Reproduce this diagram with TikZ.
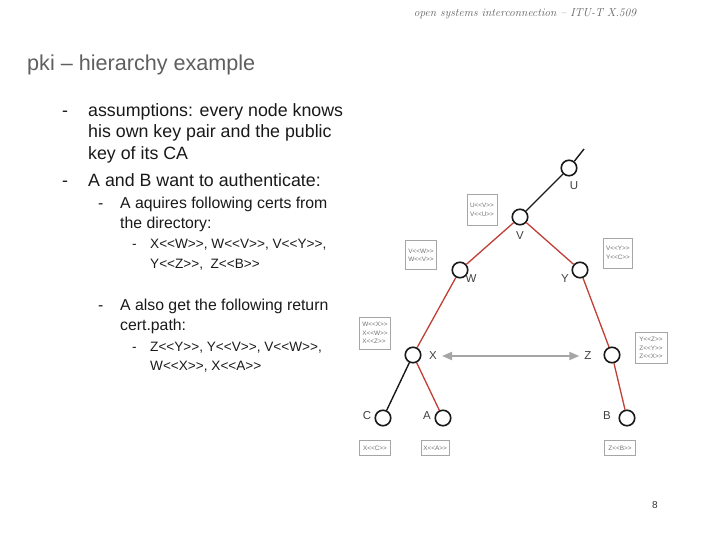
\documentclass[tikz,border=0pt]{standalone}
\usepackage{fontspec}
\newfontfamily\arial{Liberation Sans}
\usetikzlibrary{arrows.meta}
\definecolor{edgered}{RGB}{192,62,52}
\definecolor{txtgray}{RGB}{95,95,95}
\definecolor{bodytxt}{RGB}{25,25,25}
\begin{document}
\begin{tikzpicture}[x=1pt,y=-1pt,
  tn/.style={circle,draw=black!90,line width=1.6pt,minimum size=15.5pt,inner sep=0pt,fill=white},
  lab/.style={font=\arial\fontsize{11.5}{13}\selectfont,text=black!75,inner sep=0pt},
  cert/.style={draw=black!35,line width=0.6pt,font=\arial\fontsize{6.4}{8.4}\selectfont,text=black!55,align=left,inner sep=1.2pt},
  redge/.style={draw=edgered,line width=1.3pt},
  bedge/.style={draw=black!90,line width=1.4pt},
  b1/.style={anchor=base west,inner sep=0pt,font=\arial\fontsize{17.8}{21}\selectfont,text=bodytxt},
  b2/.style={anchor=base west,inner sep=0pt,font=\arial\fontsize{15.8}{19}\selectfont,text=bodytxt},
  b3/.style={anchor=base west,inner sep=0pt,font=\arial\fontsize{13.6}{16}\selectfont,text=bodytxt}
]
\useasboundingbox (0,0) rectangle (720,540);

% header
\node[inner sep=0pt,font=\itshape\fontsize{11.5}{13}\selectfont,text=txtgray] (hdr) at (525,14) {open systems interconnection -- ITU-T X.509};

% title
\node[anchor=base west,inner sep=0pt,font=\arial\fontsize{21.6}{25}\selectfont,text=txtgray] (title) at (27,71) {pki – hierarchy example};

% bullets
\node[b1] (d1) at (62,116.5) {-};
\node[b1] (t1a) at (88,116.5) {assumptions: every node knows};
\node[b1] (t1b) at (88,137.5) {his own key pair and the public};
\node[b1] (t1c) at (88,159.5) {key of its CA};
\node[b1] (d2) at (62,186.5) {-};
\node[b1] (t2) at (88,186.5) {A and B want to authenticate:};

\node[b2] (d21) at (98,209) {-};
\node[b2] (t21a) at (120,209) {A aquires following certs from};
\node[b2] (t21b) at (120,229) {the directory:};
\node[b3] (d211) at (132,248.5) {-};
\node[b3] (t211a) at (150,248.5) {X<<W>>, W<<V>>, V<<Y>>,};
\node[b3] (t211b) at (150,268.5) {Y<<Z>>, \ Z<<B>>};

\node[b2] (d22) at (98,310.5) {-};
\node[b2] (t22a) at (120,310.5) {A also get the following return};
\node[b2] (t22b) at (120,330.5) {cert.path:};
\node[b3] (d221) at (132,351) {-};
\node[b3] (t221a) at (150,351) {Z<<Y>>, Y<<V>>, V<<W>>,};
\node[b3] (t221b) at (150,370) {W<<X>>, X<<A>>};

% tree
\coordinate (top) at (584,149);
\node[tn] (U) at (569,168) {};
\node[tn] (V) at (520,217) {};
\node[tn] (W) at (460,270) {};
\node[tn] (Y) at (580,270) {};
\node[tn] (X) at (413,355) {};
\node[tn] (Z) at (612,355) {};
\node[tn] (C) at (383,418) {};
\node[tn] (A) at (443,418) {};
\node[tn] (B) at (627,418) {};

\draw[bedge] (top) -- (U);
\draw[bedge] (U) -- (V);
\draw[redge] (V) -- (W);
\draw[redge] (V) -- (Y);
\draw[redge] (W) -- (X);
\draw[redge] (Y) -- (Z);
\draw[bedge] (X) -- (C);
\draw[redge] (X) -- (A);
\draw[redge] (Z) -- (B);

\node[lab] (Ul) at (574,186) {U};
\node[lab] (Vl) at (520,236) {V};
\node[lab] (Wl) at (471,279) {W};
\node[lab] (Yl) at (565,279) {Y};
\node[lab] (Xl) at (433,356) {X};
\node[lab] (Zl) at (588,356) {Z};
\node[lab] (Cl) at (367,416) {C};
\node[lab] (Al) at (427,416) {A};
\node[lab] (Bl) at (607,416) {B};

\draw[draw=black!35,line width=2pt,{Triangle[width=8pt,length=10pt]}-{Triangle[width=8pt,length=10pt]},shorten <=5pt,shorten >=5pt] (Xl) -- (Zl);

% certificate boxes
\node[cert,minimum width=30pt,minimum height=31pt] (cU) at (482,210) {U<<V>>\\V<<U>>};
\node[cert,minimum width=31pt,minimum height=29pt] (cW) at (421,255) {V<<W>>\\W<<V>>};
\node[cert,minimum width=29pt,minimum height=30pt] (cY) at (618,253) {V<<Y>>\\Y<<C>>};
\node[cert,minimum width=31pt,minimum height=32pt] (cX) at (375,333) {W<<X>>\\X<<W>>\\X<<Z>>};
\node[cert,minimum width=32pt,minimum height=31pt] (cZ) at (651,348) {Y<<Z>>\\Z<<Y>>\\Z<<X>>};
\node[cert,minimum width=31pt,minimum height=15pt] (cC) at (375,448) {X<<C>>};
\node[cert,minimum width=28pt,minimum height=15pt] (cA) at (435,448) {X<<A>>};
\node[cert,minimum width=31pt,minimum height=15pt] (cB) at (620,448) {Z<<B>>};

% page number
\node[inner sep=0pt,font=\arial\fontsize{10}{12}\selectfont,text=black!80] (pg) at (655,505) {8};
\end{tikzpicture}
\end{document}
